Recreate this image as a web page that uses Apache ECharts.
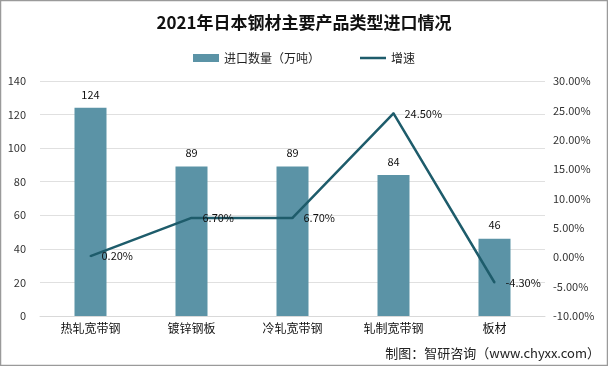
<!DOCTYPE html>
<html><head><meta charset="utf-8">
<script src="https://cdn.jsdelivr.net/npm/echarts@6/dist/echarts.min.js"></script>
<style>html,body{margin:0;padding:0;background:#fff}#c{width:608px;height:366px}</style>
</head><body><div id="c"></div>
<script>
const categories = ['热轧宽带钢', '镀锌钢板', '冷轧宽带钢', '轧制宽带钢', '板材'];
const importVolume = [124, 89, 89, 84, 46];
const growthRate = [0.20, 6.70, 6.70, 24.50, -4.30];
const leftTicks = {min: 0, max: 140, interval: 20};
const rightTicks = {min: -10, max: 30, interval: 5};

const font = '"Noto Sans CJK SC", "Noto Sans", sans-serif';
const chart = echarts.init(document.getElementById('c'));
chart.setOption({
  animation: false,
  textStyle: {fontFamily: font},
  title: {
    text: '2021年日本钢材主要产品类型进口情况',
    left: 'center', top: 9,
    textStyle: {fontSize: 17, fontWeight: 'bold', color: '#111', fontFamily: font}
  },
  legend: {
    top: 47, left: 'center', itemGap: 40, itemWidth: 26, itemHeight: 8,
    textStyle: {fontSize: 12, color: '#222'},
    data: [{name: '进口数量（万吨）', icon: 'rect'},
           {name: '增速', icon: 'path://M0,0 L0.01,0 L0.01,0.01 Z M0,2.7 L26,2.7 L26,5.3 L0,5.3 Z M0,8 L0.01,8 L0.01,7.99 Z'}]
  },
  grid: {left: 40, right: 63, top: 81, bottom: 50},
  xAxis: {
    type: 'category', data: categories,
    axisLine: {lineStyle: {color: '#d9d9d9'}},
    axisTick: {show: false},
    axisLabel: {color: '#111', fontSize: 12, margin: 6}
  },
  yAxis: [{
    type: 'value', min: leftTicks.min, max: leftTicks.max, interval: leftTicks.interval,
    axisLabel: {color: '#333', fontSize: 11, margin: 14},
    axisLine: {show: false}, axisTick: {show: false},
    splitLine: {lineStyle: {color: '#e0e0e0'}}
  }, {
    type: 'value', min: rightTicks.min, max: rightTicks.max, interval: rightTicks.interval,
    axisLabel: {color: '#333', fontSize: 11, margin: 8, formatter: v => v.toFixed(2) + '%'},
    axisLine: {show: false}, axisTick: {show: false},
    splitLine: {show: false}
  }],
  series: [{
    name: '进口数量（万吨）', type: 'bar', data: importVolume, barWidth: 32,
    itemStyle: {color: '#5b93a6'},
    label: {show: true, position: 'top', color: '#111', fontSize: 11, distance: 8}
  }, {
    name: '增速', type: 'line', yAxisIndex: 1, data: growthRate,
    symbol: 'circle', symbolSize: 2, showSymbol: true,
    lineStyle: {color: '#1e5c6b', width: 2.5},
    itemStyle: {color: '#1e5c6b'},
    label: {show: true, position: 'right', color: '#111', fontSize: 11, distance: 10,
      formatter: p => p.value.toFixed(2) + '%'}
  }],
  graphic: [
    {type: 'rect', shape: {x: 0.5, y: 0.5, width: 607, height: 365}, style: {fill: 'none', stroke: '#9a9a9a', lineWidth: 1.5}, silent: true},
    {type: 'text', right: 8, bottom: 6, style: {text: '制图：智研咨询（www.chyxx.com）', fill: '#222', fontSize: 13, fontFamily: font}}
  ]
});
</script></body></html>
